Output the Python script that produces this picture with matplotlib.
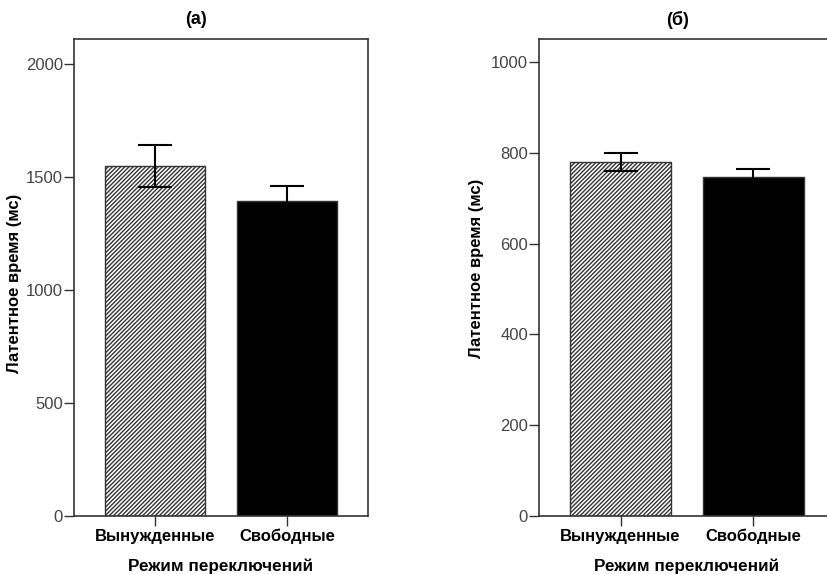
import matplotlib
matplotlib.use("Agg")
import matplotlib.pyplot as plt

plt.rcParams['font.family'] = ['Liberation Sans', 'DejaVu Sans']
plt.rcParams['hatch.linewidth'] = 1.0

categories = ["Вынужденные", "Свободные"]
means_a = [1548, 1395]
err_a = [94, 66]
means_b = [780, 746]
err_b = [20, 18]
yticks_a = [0, 500, 1000, 1500, 2000]
yticks_b = [0, 200, 400, 600, 800, 1000]
titles = ["(а)", "(б)"]
xlabel = "Режим переключений"
ylabel = "Латентное время (мс)"

W, H = 827, 574
fig = plt.figure(figsize=(W / 100, H / 100), dpi=100)

def px_axes(l, t, r, b):
    return fig.add_axes([l / W, 1 - b / H, (r - l) / W, (b - t) / H])

ax_a = px_axes(74, 39, 368, 516)
ax_b = px_axes(539, 39, 835, 516)

panels = [
    (ax_a, means_a, err_a, yticks_a, 2111, titles[0], 196, 221, 15, 283),
    (ax_b, means_b, err_b, yticks_b, 1051, titles[1], 678, 687, 477, 268),
]

for ax, means, errs, yt, ymax, title, tx, xlx, ylx, yly in panels:
    x = list(range(len(categories)))
    bars = ax.bar(x, means, width=0.76, color=["white", "black"],
                  edgecolor="#333333", linewidth=1.0)
    bars[0].set_hatch("////////")
    ax.errorbar(x, means, yerr=errs, fmt="none", ecolor="black",
                elinewidth=1.5, capsize=12, capthick=1.5)
    ax.set_xlim(-0.614, 1.614)
    ax.set_ylim(0, ymax)
    ax.set_yticks(yt)
    ax.set_yticklabels([str(v) for v in yt], fontsize=12, color="#444444")
    ax.set_xticks(x)
    ax.set_xticklabels(categories, fontsize=12, fontweight="bold")
    ax.tick_params(axis="y", length=7, width=1.0, pad=1, color="#333333")
    ax.tick_params(axis="x", length=7, width=1.0, pad=2, color="#333333")
    for s in ax.spines.values():
        s.set_color("#333333")
        s.set_linewidth(1.2)
    fig.text(tx / W, 1 - 20 / H, title, ha="center", va="center",
             fontsize=13, fontweight="bold")
    fig.text(xlx / W, 1 - 566 / H, xlabel, ha="center", va="center",
             fontsize=12.3, fontweight="bold")
    fig.text(ylx / W, 1 - yly / H, ylabel, ha="center", va="center",
             rotation=90, fontsize=12, fontweight="bold")

fig.savefig("out.png", dpi=100)
